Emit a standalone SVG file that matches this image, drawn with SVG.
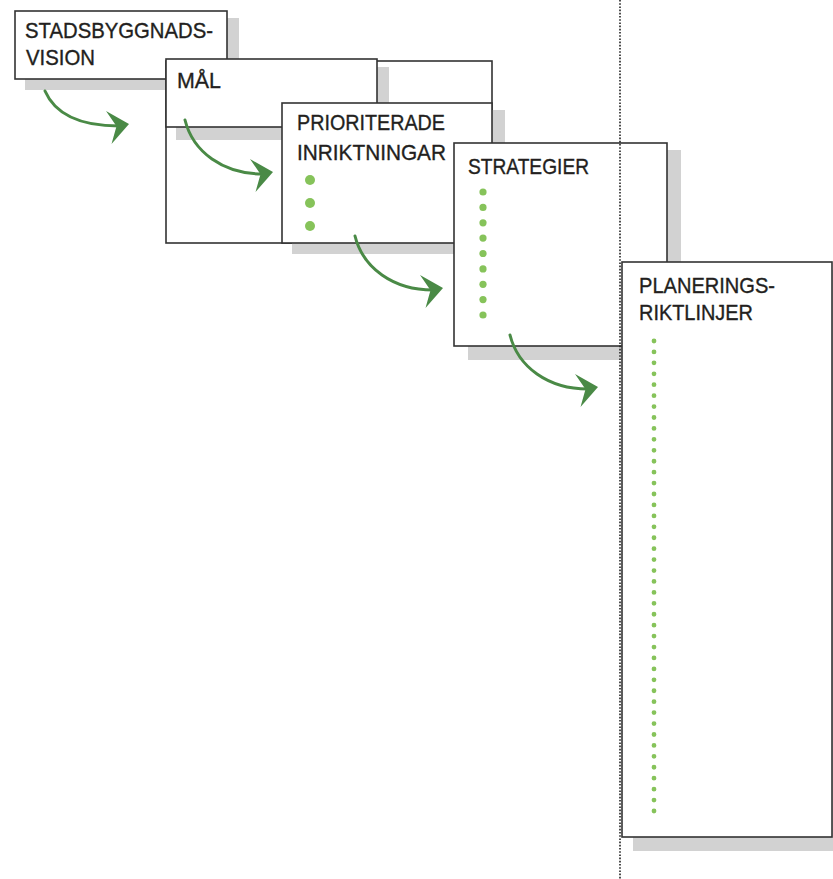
<svg xmlns="http://www.w3.org/2000/svg" width="833" height="879" viewBox="0 0 833 879">
<defs>
<style>
.box{fill:#fff;stroke:#333;stroke-width:1.6}
.sh{fill:#d2d2d2}
.t{font-family:"Liberation Sans",Arial,sans-serif;font-size:22px;fill:#231f20;stroke:#231f20;stroke-width:0.35}
.d{fill:#86c35a}
.shaft{fill:none;stroke:#4a8a46;stroke-width:3;stroke-linecap:round}
.head{fill:#4a8a46}
.guide{stroke:#222;stroke-width:1.6;stroke-dasharray:1.6 1.6;fill:none}
</style>
<g id="arrow">
<path class="shaft" d="M-88,-52 C-80,-20 -50,2 -10,2"/>
<path class="head" d="M0,0 L-23,-13 L-12.5,2.2 L-17.5,20 Z"/>
</g>
<g id="arrow1">
<path class="shaft" d="M-84,-33 C-74,-10 -50,2 -10,2"/>
<path class="head" d="M0,0 L-23,-13 L-12.5,2.2 L-17.5,20 Z"/>
</g>
</defs>
<rect width="833" height="879" fill="#fff"/>

<g id="node-vision">
<rect class="sh" x="25" y="18" width="214" height="72"/>
<rect class="box" x="15" y="11" width="212" height="68"/>
<text class="t" x="25" y="38" textLength="188" lengthAdjust="spacingAndGlyphs">STADSBYGGNADS-</text>
<text class="t" x="26" y="65" textLength="69" lengthAdjust="spacingAndGlyphs">VISION</text>
</g>

<g id="node-mal-frame">
<rect class="box" x="166" y="61" width="326" height="182"/>
</g>

<g id="node-mal">
<rect class="sh" x="176" y="67" width="213" height="73"/>
<rect class="box" x="166" y="59" width="211" height="68"/>
<text class="t" x="177" y="88" textLength="44" lengthAdjust="spacingAndGlyphs">MÅL</text>
</g>

<g id="node-prioriterade">
<rect class="sh" x="292" y="110" width="213" height="144"/>
<rect class="box" x="282" y="103" width="210" height="140"/>
<text class="t" x="297" y="129.5" textLength="148" lengthAdjust="spacingAndGlyphs">PRIORITERADE</text>
<text class="t" x="297" y="159.5" textLength="149" lengthAdjust="spacingAndGlyphs">INRIKTNINGAR</text>
<circle class="d" cx="310" cy="180" r="5"/>
<circle class="d" cx="310" cy="203" r="5"/>
<circle class="d" cx="310" cy="226" r="5"/>
</g>

<g id="node-strategier">
<rect class="sh" x="468" y="150" width="213" height="210"/>
<rect class="box" x="454" y="143" width="213" height="203"/>
<text class="t" x="468" y="174" textLength="121" lengthAdjust="spacingAndGlyphs">STRATEGIER</text>
<g class="d">
<circle cx="483" cy="192" r="3.6"/>
<circle cx="483" cy="207.4" r="3.6"/>
<circle cx="483" cy="222.8" r="3.6"/>
<circle cx="483" cy="238.1" r="3.6"/>
<circle cx="483" cy="253.5" r="3.6"/>
<circle cx="483" cy="268.9" r="3.6"/>
<circle cx="483" cy="284.3" r="3.6"/>
<circle cx="483" cy="299.6" r="3.6"/>
<circle cx="483" cy="315" r="3.6"/>
</g>
</g>

<g id="node-planering">
<rect class="sh" x="633" y="270" width="213" height="581"/>
<rect class="box" x="622" y="262" width="210" height="575"/>
<text class="t" x="639" y="293" textLength="136" lengthAdjust="spacingAndGlyphs">PLANERINGS-</text>
<text class="t" x="639" y="320" textLength="114" lengthAdjust="spacingAndGlyphs">RIKTLINJER</text>
<line x1="654" y1="341" x2="654" y2="811.5" stroke="#86c35a" stroke-width="4.8" stroke-linecap="round" stroke-dasharray="0 10.93"/>
</g>

<g id="connectors">
<use href="#arrow1" x="129" y="124"/>
<use href="#arrow" x="273" y="172"/>
<use href="#arrow" x="443" y="288"/>
<use href="#arrow" x="598" y="387"/>
</g>

<g id="guide">
<line class="guide" x1="620" y1="0" x2="620" y2="879"/>
</g>
</svg>
